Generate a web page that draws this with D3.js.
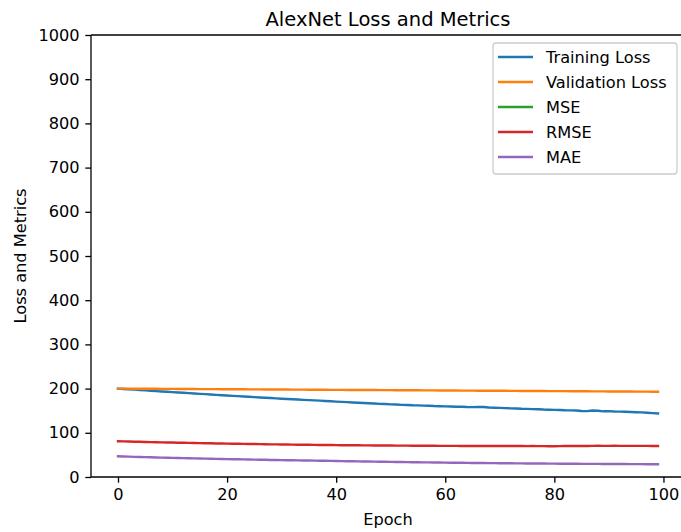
<!DOCTYPE html>
<html>
<head>
<meta charset="utf-8">
<script src="https://cdn.jsdelivr.net/npm/d3@7"></script>
<style>
  html, body { margin: 0; padding: 0; background: #fff; }
  svg { display: block; }
  text { font-family: "DejaVu Sans", sans-serif; fill: #000; }
</style>
</head>
<body>
<svg id="chart" width="681" height="532"></svg>
<script>
const title = "AlexNet Loss and Metrics";
const xLabel = "Epoch";
const yLabel = "Loss and Metrics";
const seriesNames = ["Training Loss", "Validation Loss", "MSE", "RMSE", "MAE"];
const seriesColors = ["#1f77b4", "#ff7f0e", "#2ca02c", "#d62728", "#9467bd"];
const xTicks = [0, 20, 40, 60, 80, 100];
const yTicks = [0, 100, 200, 300, 400, 500, 600, 700, 800, 900, 1000];

const trainingLoss = [200.0,199.2,198.4,197.6,196.8,196.0,195.2,194.4,193.6,192.8,
  192.0,191.2,190.5,189.7,188.9,188.1,187.4,186.6,185.8,185.1,
  184.3,183.6,182.9,182.1,181.4,180.7,180.0,179.3,178.6,177.9,
  177.2,176.6,175.9,175.3,174.6,174.0,173.3,172.7,172.0,171.3,
  170.6,170.0,169.3,168.7,168.0,167.4,166.7,166.2,165.5,165.0,
  164.3,163.9,163.2,162.9,162.3,162.0,161.4,161.1,160.5,160.2,
  159.7,159.4,158.8,158.9,158.3,158.0,158.7,158.4,157.3,156.8,
  156.4,155.9,155.3,155.0,154.4,154.1,153.5,153.2,152.6,152.3,
  151.8,151.5,150.9,150.7,150.3,149.2,149.0,150.6,149.9,148.6,
  149.1,148.2,147.8,147.5,147.0,146.6,146.1,145.4,144.6,143.8];

const validationLoss = [200.0,199.9,199.9,199.8,199.7,199.6,199.6,199.5,199.4,199.4,
  199.3,199.2,199.1,199.1,199.0,198.9,198.9,198.8,198.7,198.7,
  198.6,198.5,198.4,198.4,198.3,198.2,198.2,198.1,198.0,197.9,
  197.9,197.8,197.7,197.7,197.6,197.5,197.4,197.4,197.3,197.2,
  197.2,197.1,197.0,196.9,196.9,196.8,196.7,196.7,196.6,196.5,
  196.5,196.4,196.3,196.2,196.2,196.1,196.0,196.0,195.9,195.8,
  195.7,195.7,195.6,195.5,195.5,195.4,195.3,195.2,195.2,195.1,
  195.0,195.0,194.9,194.8,194.7,194.7,194.6,194.5,194.5,194.4,
  194.3,194.2,194.2,194.1,194.0,194.0,193.9,193.8,193.7,193.7,
  193.6,193.5,193.5,193.4,193.3,193.2,193.2,193.1,193.0,193.0];

// MSE lies far above the 0-1000 y-range of the reference, so it is clipped out of view
const mse = [6529,6480,6432,6384,6336,6288,6241,6194,6147,6115,
  6068,6022,5991,5944,5914,5868,5837,5806,5761,5730,
  5700,5670,5640,5610,5580,5550,5520,5491,5461,5446,
  5417,5388,5373,5344,5329,5300,5285,5256,5242,5227,
  5198,5184,5170,5155,5141,5127,5112,5098,5084,5069,
  5055,5041,5041,5027,5013,5013,4998,4984,4984,4970,
  4970,4956,4956,4942,4942,4942,4928,4942,4928,4914,
  4914,4914,4900,4900,4900,4886,4900,4886,4872,4858,
  4844,4886,4914,4900,4928,4956,4942,4956,4984,4970,
  4956,4984,4970,4970,4956,4970,4956,4956,4942,4942];

const rmse = [80.8,80.5,80.2,79.9,79.6,79.3,79.0,78.7,78.4,78.2,
  77.9,77.6,77.4,77.1,76.9,76.6,76.4,76.2,75.9,75.7,
  75.5,75.3,75.1,74.9,74.7,74.5,74.3,74.1,73.9,73.8,
  73.6,73.4,73.3,73.1,73.0,72.8,72.7,72.5,72.4,72.3,
  72.1,72.0,71.9,71.8,71.7,71.6,71.5,71.4,71.3,71.2,
  71.1,71.0,71.0,70.9,70.8,70.8,70.7,70.6,70.6,70.5,
  70.5,70.4,70.4,70.3,70.3,70.3,70.2,70.3,70.2,70.1,
  70.1,70.1,70.0,70.0,70.0,69.9,70.0,69.9,69.8,69.7,
  69.6,69.9,70.1,70.0,70.2,70.4,70.3,70.4,70.6,70.5,
  70.4,70.6,70.5,70.5,70.4,70.5,70.4,70.4,70.3,70.3];

const mae = [46.8,46.4,46.0,45.6,45.3,44.9,44.6,44.2,43.9,43.6,
  43.3,43.0,42.7,42.4,42.1,41.8,41.5,41.3,41.0,40.8,
  40.5,40.3,40.0,39.8,39.5,39.3,39.1,38.9,38.6,38.4,
  38.2,38.0,37.8,37.6,37.4,37.2,37.0,36.8,36.6,36.4,
  36.2,36.0,35.8,35.6,35.4,35.2,35.0,34.8,34.6,34.5,
  34.3,34.1,33.9,33.7,33.5,33.4,33.2,33.0,32.9,32.7,
  32.6,32.4,32.3,32.1,32.0,31.8,31.7,31.6,31.4,31.3,
  31.2,31.1,31.0,30.9,30.8,30.7,30.6,30.5,30.4,30.3,
  30.2,30.1,30.0,30.0,29.9,29.8,29.7,29.7,29.6,29.5,
  29.5,29.4,29.3,29.3,29.2,29.2,29.1,29.0,29.0,28.9];

const seriesValues = [trainingLoss, validationLoss, mse, rmse, mae];

const svg = d3.select("#chart");
const W = 681, H = 532;
const plot = { left: 91, right: 685, top: 35, bottom: 477 };
const FS = 16.2, TFS = 19.5, TICK = 5.7, LW = 2.4, SW = 1.3;

const x = d3.scaleLinear().domain([-4.95, 103.95]).range([plot.left, plot.right]);
const y = d3.scaleLinear().domain([0, 1000]).range([plot.bottom, plot.top]);

svg.append("rect").attr("width", W).attr("height", H).attr("fill", "#fff");

svg.append("defs").append("clipPath").attr("id", "clip")
  .append("rect")
  .attr("x", plot.left).attr("y", plot.top)
  .attr("width", plot.right - plot.left).attr("height", plot.bottom - plot.top);

// lines
const line = d3.line().x((d, i) => x(i)).y(d => y(d));
const linesG = svg.append("g").attr("clip-path", "url(#clip)");
seriesValues.forEach((vals, k) => {
  linesG.append("path")
    .datum(vals)
    .attr("fill", "none")
    .attr("stroke", seriesColors[k])
    .attr("stroke-width", LW)
    .attr("stroke-linejoin", "round")
    .attr("stroke-linecap", "square")
    .attr("d", line);
});

// axes
const xAxis = d3.axisBottom(x).tickValues(xTicks).tickSize(TICK).tickPadding(TICK).tickFormat(d3.format("d"));
const yAxis = d3.axisLeft(y).tickValues(yTicks).tickSize(TICK).tickPadding(TICK).tickFormat(d3.format("d"));

const gx = svg.append("g").attr("transform", `translate(0,${plot.bottom})`).call(xAxis);
const gy = svg.append("g").attr("transform", `translate(${plot.left},0)`).call(yAxis);
[gx, gy].forEach(g => {
  g.select(".domain").remove();
  g.selectAll(".tick line").attr("stroke", "#000").attr("stroke-width", SW);
  g.selectAll(".tick text").attr("font-size", FS + "px").attr("fill", "#000")
    .style("font-family", "'DejaVu Sans', sans-serif");
});

// spines
const spine = svg.append("g").attr("fill", "none").attr("stroke", "#000").attr("stroke-width", SW);
spine.append("line").attr("x1", plot.left).attr("x2", plot.left).attr("y1", plot.top).attr("y2", plot.bottom);
spine.append("line").attr("x1", plot.left).attr("x2", plot.right).attr("y1", plot.bottom).attr("y2", plot.bottom);
spine.append("line").attr("x1", plot.left).attr("x2", plot.right).attr("y1", plot.top).attr("y2", plot.top);
spine.append("line").attr("x1", plot.right).attr("x2", plot.right).attr("y1", plot.top).attr("y2", plot.bottom);

// title and labels
const cx = (plot.left + plot.right) / 2;
svg.append("text").attr("x", cx).attr("y", 26).attr("text-anchor", "middle")
  .attr("font-size", TFS + "px").text(title);
svg.append("text").attr("x", cx).attr("y", 525).attr("text-anchor", "middle")
  .attr("font-size", FS + "px").text(xLabel);
svg.append("text")
  .attr("transform", `translate(26,${(plot.top + plot.bottom) / 2}) rotate(-90)`)
  .attr("text-anchor", "middle")
  .attr("font-size", FS + "px").text(yLabel);

// legend
const lg = svg.append("g");
const lx = 493, ly = 43, lw = 184, lh = 131;
lg.append("rect").attr("x", lx).attr("y", ly).attr("width", lw).attr("height", lh)
  .attr("rx", 3).attr("ry", 3)
  .attr("fill", "#fff").attr("fill-opacity", 0.8)
  .attr("stroke", "#cccccc").attr("stroke-width", SW);
seriesNames.forEach((name, k) => {
  const yy = ly + 14 + k * 25;
  lg.append("line").attr("x1", lx + 5).attr("x2", lx + 40).attr("y1", yy).attr("y2", yy)
    .attr("stroke", seriesColors[k]).attr("stroke-width", LW);
  lg.append("text").attr("x", lx + 53).attr("y", yy).attr("dy", "0.35em")
    .attr("font-size", FS + "px").text(name);
});
</script>
</body>
</html>
